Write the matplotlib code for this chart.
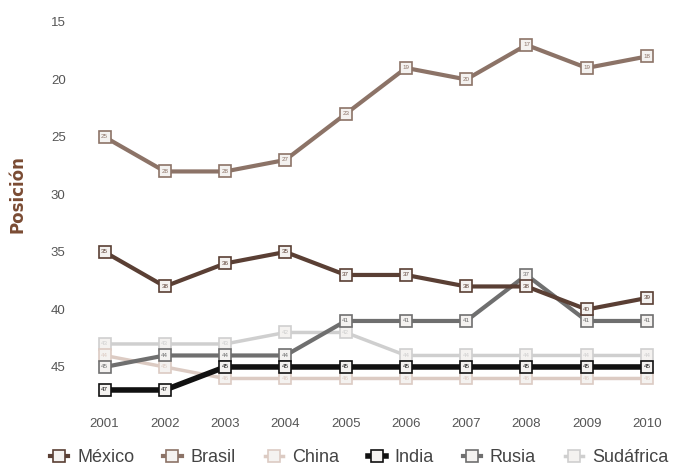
import matplotlib
matplotlib.use("Agg")
import matplotlib.pyplot as plt

plt.rcParams['font.family'] = ['Liberation Sans', 'DejaVu Sans']

# Ranking per year (lower number = better position)
years = [2001, 2002, 2003, 2004, 2005, 2006, 2007, 2008, 2009, 2010]
mexico = [35, 38, 36, 35, 37, 37, 38, 38, 40, 39]
brasil = [25, 28, 28, 27, 23, 19, 20, 17, 19, 18]
china = [44, 45, 46, 46, 46, 46, 46, 46, 46, 46]
india = [47, 47, 45, 45, 45, 45, 45, 45, 45, 45]
rusia = [45, 44, 44, 44, 41, 41, 41, 37, 41, 41]
sudafrica = [43, 43, 43, 42, 42, 44, 44, 44, 44, 44]

series = [
    ("Sudáfrica", sudafrica, "#cfcfcf", 2.5),
    ("China", china, "#dccbc3", 2.5),
    ("Rusia", rusia, "#6f6f6f", 3.0),
    ("India", india, "#111111", 4.0),
    ("Brasil", brasil, "#8c7367", 3.0),
    ("México", mexico, "#5a3f34", 3.0),
]
legend_order = ["México", "Brasil", "China", "India", "Rusia", "Sudáfrica"]

fig = plt.figure(figsize=(6.91, 4.74), dpi=100)
ax = fig.add_axes([0.099, 0.153, 0.881, 0.825])

handles = {}
for name, vals, color, lw in series:
    line, = ax.plot(years, vals, color=color, lw=lw, marker="s", markersize=9,
                    markerfacecolor="#f4f2f0", markeredgecolor=color,
                    markeredgewidth=1.2, label=name, zorder=3)
    for x, v in zip(years, vals):
        ax.text(x, v, str(v), fontsize=4.5, color=color, ha="center",
                va="center", zorder=4)
    handles[name] = line

ax.set_ylim(48, 14)
ax.set_xlim(2000.4, 2010.5)
ax.set_yticks([15, 20, 25, 30, 35, 40, 45])
ax.set_xticks(years)
ax.tick_params(length=0, labelsize=9.5, colors="#555555", pad=2)
ax.tick_params(axis="x", pad=12)
for s in ax.spines.values():
    s.set_visible(False)

fig.text(0.026, 0.59, "Posición", rotation=90, fontsize=12, fontweight="bold",
         color="#7a4b33", ha="center", va="center", family="DejaVu Sans")

leg = fig.legend([handles[n] for n in legend_order], legend_order,
                 loc="center", bbox_to_anchor=(0.52, 0.034), ncol=6,
                 frameon=False, fontsize=13, handlelength=1.0,
                 columnspacing=1.6, handletextpad=0.5)
for t in leg.get_texts():
    t.set_color("#444444")

fig.savefig("out.png", dpi=100)
